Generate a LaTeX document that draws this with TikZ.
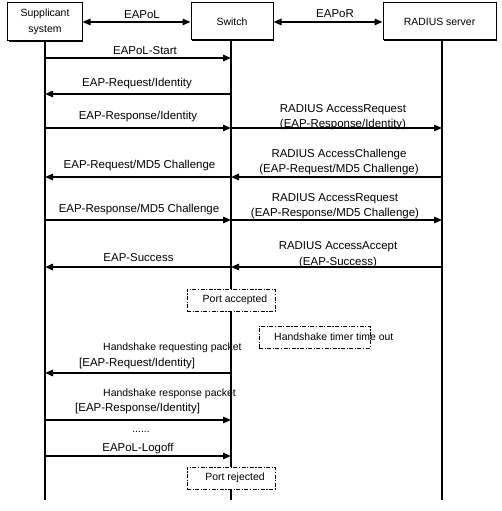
\documentclass[tikz,border=0pt]{standalone}
\usepackage{fontspec}
\setmainfont{Liberation Sans}
\usetikzlibrary{arrows.meta,shadows}
\begin{document}
\begin{tikzpicture}[x=1bp,y=-1bp,
  entity/.style={draw, line width=1bp, fill=white, inner sep=0pt,
    drop shadow={shadow xshift=1.2bp, shadow yshift=-1.2bp, fill=black, opacity=1},
    font=\fontsize{10.5}{16.5}\selectfont, align=center},
  life/.style={line width=2bp},
  msg/.style={line width=1.4bp, -{Triangle[length=8bp,width=6.5bp]}},
  dmsg/.style={line width=1.4bp, {Triangle[length=8bp,width=6.5bp]}-{Triangle[length=8bp,width=6.5bp]}},
  lbl/.style={font=\fontsize{11.5}{15.5}\selectfont, inner sep=0pt, align=center},
  slbl/.style={font=\fontsize{10.5}{13}\selectfont, inner sep=0pt},
  state/.style={draw, fill=white, line width=1bp, dash pattern=on 4bp off 1.5bp on 1.2bp off 1.5bp,
    minimum width=88bp, minimum height=22bp, inner sep=0pt, font=\fontsize{10.5}{13}\selectfont}
]
\useasboundingbox (0,0) rectangle (502,511);

% entities
\node[entity, minimum width=74bp, minimum height=38bp] (sup) at (45,22) {Supplicant\\system};
\node[entity, minimum width=82bp, minimum height=37bp] (sw) at (232,21.5) {Switch};
\node[entity, minimum width=113bp, minimum height=37bp] (rad) at (439.5,21.5) {RADIUS server};

% lifeline tops and bottoms
\coordinate (ls) at (45,41);
\coordinate (lw) at (231,40);
\coordinate (lr) at (442,40);
\coordinate (bs) at (45,500);
\coordinate (bw) at (231,500);
\coordinate (br) at (442,500);
\draw[life] (ls) -- (bs);
\draw[life] (lw) -- (bw);
\draw[life] (lr) -- (br);

% top protocol arrows
\draw[dmsg] (sup.east |- 0,22) -- (sw.west |- 0,22);
\node[lbl] (eapol) at (142,15) {EAPoL};
\draw[dmsg] (sw.east |- 0,22) -- (rad.west |- 0,22);
\node[lbl] (eapor) at (335,14) {EAPoR};

% messages
\draw[msg] (ls |- 0,58) -- (lw |- 0,58);
\node[lbl] (m1) at (145,51) {EAPoL-Start};

\draw[msg] (lw |- 0,94) -- (ls |- 0,94);
\node[lbl] (m2) at (137,84) {EAP-Request/Identity};

\draw[msg] (ls |- 0,128) -- (lw |- 0,128);
\node[lbl] (m3) at (138,117) {EAP-Response/Identity};
\draw[msg] (lw |- 0,128) -- (lr |- 0,128);
\node[lbl] (m3r) at (343,117) {RADIUS AccessRequest\\(EAP-Response/Identity)};

\draw[msg] (lr |- 0,177) -- (lw |- 0,177);
\node[lbl] (m4r) at (339,162) {RADIUS AccessChallenge\\(EAP-Request/MD5 Challenge)};
\draw[msg] (lw |- 0,177) -- (ls |- 0,177);
\node[lbl] (m4) at (139.5,166) {EAP-Request/MD5 Challenge};

\draw[msg] (ls |- 0,220) -- (lw |- 0,220);
\node[lbl] (m5) at (139,210) {EAP-Response/MD5 Challenge};
\draw[msg] (lw |- 0,220) -- (lr |- 0,220);
\node[lbl] (m5r) at (335,206) {RADIUS AccessRequest\\(EAP-Response/MD5 Challenge)};

\draw[msg] (lr |- 0,267) -- (lw |- 0,267);
\node[lbl] (m6r) at (338,254.5) {RADIUS AccessAccept\\(EAP-Success)};
\draw[msg] (lw |- 0,267) -- (ls |- 0,267);
\node[lbl] (m6) at (138.5,258) {EAP-Success};

% states
\node[state] (pa) at (231,300) {\hspace*{8bp}Port accepted};
\node[state, minimum width=111bp] (hto) at (314.5,337) {};
\node[slbl, anchor=west] (htot) at (274,337) {Handshake timer time out};

% handshake
\node[slbl, anchor=west] (h1) at (103,348) {Handshake requesting packet};
\node[lbl, anchor=west] (h1b) at (79,364) {[EAP-Request/Identity]};
\draw[msg] (lw |- 0,373) -- (ls |- 0,373);

\node[slbl, anchor=west] (h2) at (103,394) {Handshake response packet};
\node[lbl, anchor=west] (h2b) at (75,409) {[EAP-Response/Identity]};
\draw[msg] (ls |- 0,420) -- (lw |- 0,420);

\node[slbl] (dots) at (141,432) {......};

\draw[msg] (ls |- 0,456) -- (lw |- 0,456);
\node[lbl] (m7) at (138,449) {EAPoL-Logoff};

\node[state] (pr) at (231,478) {\hspace*{8bp}Port rejected};
\end{tikzpicture}
\end{document}
